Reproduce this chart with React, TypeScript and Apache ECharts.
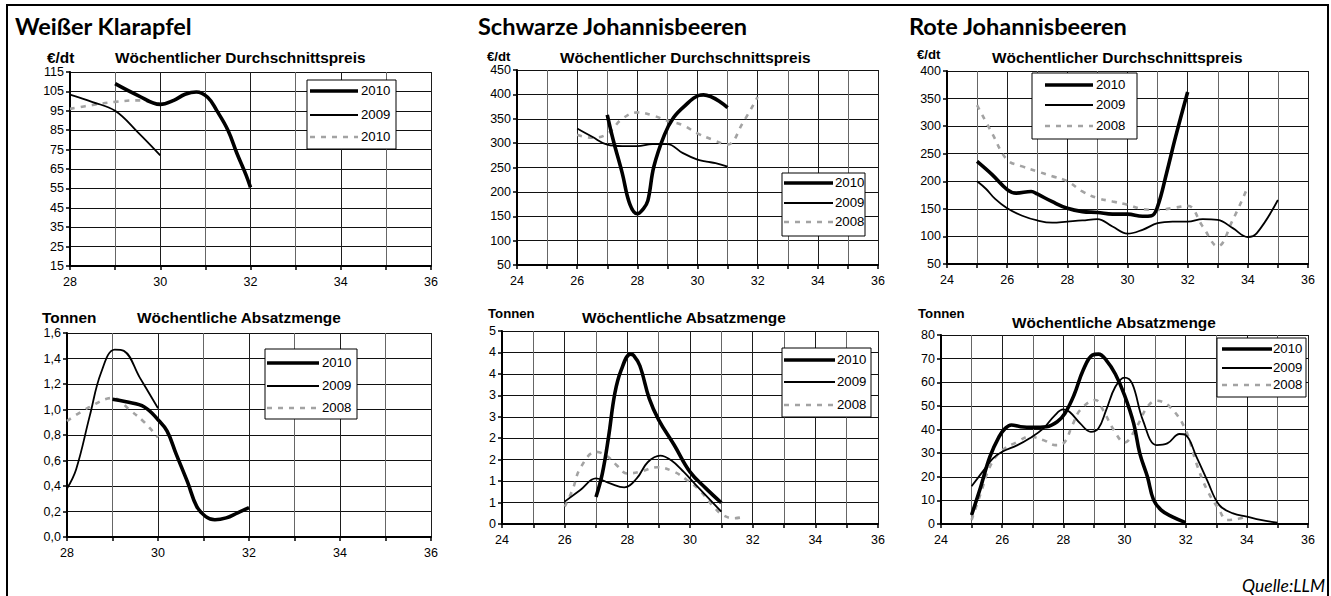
import React, { useEffect, useRef } from "react";
import * as echarts from "echarts";

// ---------- Data (week, value) ----------
// Weißer Klarapfel – Preis €/dt
const klarPreis2010 = [[29,109],[29.5,103],[30,98.3],[30.3,100.4],[30.55,103.5],[30.8,104.7],[31.05,102],[31.25,95.2],[31.5,85],[31.7,73],[31.9,62],[32,55.5]];
const klarPreis2009 = [[28,103.3],[28.5,99.5],[29,95],[29.5,84],[30,72]];
const klarPreis2008 = [[28,96],[28.5,98],[29,99.6],[29.5,100.4],[30,98.5]];
// Weißer Klarapfel – Menge t
const klarMenge2010 = [[29,1.08],[29.3,1.06],[29.7,1.02],[30,0.92],[30.2,0.83],[30.4,0.65],[30.65,0.43],[30.85,0.24],[31.05,0.16],[31.25,0.135],[31.5,0.15],[31.75,0.19],[32,0.23]];
const klarMenge2009 = [[28,0.38],[28.2,0.53],[28.5,0.95],[28.75,1.29],[29.05,1.47],[29.25,1.46],[29.6,1.25],[30,1.01]];
const klarMenge2008 = [[28,0.91],[28.5,1.02],[29,1.09],[29.4,0.99],[29.7,0.9],[30,0.78]];
// Schwarze Johannisbeeren – Preis
const schwarzPreis2010 = [[27,358],[27.2,306],[27.5,238],[27.75,175],[28,155],[28.2,165],[28.35,182],[28.55,252],[28.9,317],[29.2,352],[29.55,375],[30.05,398],[30.2,399],[31,373]];
const schwarzPreis2009 = [[26,330],[26.5,313],[27,297],[27.5,294],[28,294],[28.5,298],[29,298],[29.5,280],[30,266],[30.3,262],[30.6,259],[31,252]];
const schwarzPreis2008 = [[26,317],[26.5,311],[27,319],[27.5,350],[28,363],[28.5,357],[29,346],[29.5,337],[30,320],[30.5,307],[31,297],[31.5,341],[32,395]];
// Schwarze Johannisbeeren – Menge
const schwarzMenge2010 = [[27,0.7],[27.2,1.3],[27.4,2.25],[27.6,3.38],[27.8,3.98],[28.1,4.4],[28.2,4.37],[28.4,4.1],[28.7,3.25],[29,2.7],[29.5,2.04],[30,1.35],[30.5,0.93],[31,0.55]];
const schwarzMenge2009 = [[26,0.58],[26.5,0.88],[27,1.18],[27.45,1.05],[27.9,0.95],[28.3,1.18],[28.65,1.6],[29.05,1.77],[29.4,1.65],[29.8,1.35],[30.2,1.0],[31,0.32]];
const schwarzMenge2008 = [[26,0.45],[26.25,0.88],[26.5,1.45],[27,1.87],[27.35,1.76],[27.65,1.53],[28,1.31],[28.4,1.35],[28.95,1.47],[29.5,1.35],[29.9,1.14],[30.3,0.88],[30.75,0.45],[31.05,0.23],[31.4,0.15],[31.75,0.19]];
// Rote Johannisbeeren – Preis
const rotPreis2010 = [[25,236],[25.5,212],[26,185],[26.3,178.5],[26.8,181.5],[27,177],[27.5,163],[28,151],[28.5,145],[29,143.5],[29.5,140.5],[30,140.5],[30.5,136.5],[30.8,137.5],[31,154],[31.3,215],[31.6,281],[32,362]];
const rotPreis2009 = [[25,200],[25.3,186],[25.6,168],[26,151],[26.5,137.5],[27,129],[27.5,125],[28,127],[28.5,129],[29,131.5],[29.5,118],[30,105],[30.5,112],[31,124],[31.5,127],[32,127],[32.5,131.5],[33,130],[33.5,115],[34,99],[34.3,106],[35,166]];
const rotPreis2008 = [[25,338],[25.5,287],[26,239],[26.5,227],[27,218],[27.5,209],[28,200],[28.5,181.5],[29,169.5],[29.5,163.5],[30,157.5],[30.5,149.5],[31,148],[31.5,151.5],[32,155.5],[32.5,118],[33,82],[33.5,130],[34,190]];
// Rote Johannisbeeren – Menge
const rotMenge2010 = [[25,3.8],[25.3,15.8],[25.6,28.5],[25.9,37],[26.1,40.5],[26.3,41.9],[26.6,41.2],[27,40.9],[27.45,41.2],[27.8,43.3],[28.05,46.8],[28.35,54.6],[28.65,65.2],[28.95,71.5],[29.15,71.9],[29.4,69.4],[29.7,63.5],[30,54.6],[30.3,42.6],[30.5,29.9],[30.75,20],[30.95,10.2],[31.2,5.9],[31.55,3.1],[32,0.6]];
const rotMenge2009 = [[25,16],[25.4,22.8],[25.7,27.8],[26,30.6],[26.5,33.4],[26.9,36.3],[27.35,40.5],[27.7,45.7],[28,48.5],[28.2,47.5],[28.55,42.6],[28.9,39],[29.15,40.5],[29.4,48.2],[29.7,58.1],[30,62],[30.25,59.5],[30.6,44],[31.05,33.4],[31.4,34.1],[31.8,38.1],[32,37.7],[32.35,28.5],[32.7,18.6],[33.1,8],[33.55,4.5],[34,3.1],[34.45,1.7],[35,0.6]];
const rotMenge2008 = [[25,1.7],[25.3,13],[25.6,24.3],[25.95,30.6],[26.5,34.8],[26.9,37],[27.35,35.5],[27.75,33.4],[28,34.1],[28.3,41.9],[28.55,48.2],[29.05,52.5],[29.3,48.2],[29.65,39.8],[30,34.5],[30.4,41.2],[30.75,49.6],[31.05,52.2],[31.5,49.4],[32,39.8],[32.35,25.7],[32.7,14.4],[33.1,5.9],[33.35,1.7],[33.8,2.4],[34,3.8]];

const titles = ["Weißer Klarapfel", "Schwarze Johannisbeeren", "Rote Johannisbeeren"];
const priceTitle = "Wöchentlicher Durchschnittspreis";
const amountTitle = "Wöchentliche Absatzmenge";
const legendLabels1 = ["2010", "2009", "2010"];
const legendLabels = ["2010", "2009", "2008"];
const source = "Quelle:LLM";

const AX = "Liberation Sans, Arial, sans-serif";
const TF = "Lato, 'Open Sans', sans-serif";

const seriesStyles = [
  { color: "#000000", width: 3.6, type: "solid" as any },
  { color: "#000000", width: 1.8, type: "solid" as any },
  { color: "#a3a3a3", width: 2.6, type: [5, 6] as any },
];

const grids = [
  { left: 70, top: 72, width: 361, height: 194 },
  { left: 517, top: 70, width: 361, height: 195 },
  { left: 947, top: 71, width: 361, height: 193 },
  { left: 67, top: 333, width: 364, height: 204 },
  { left: 502, top: 331, width: 376, height: 193 },
  { left: 941, top: 335, width: 367, height: 189 },
];

const panels = [
  { xmin: 28, ymin: 15, ymax: 115, yint: 10, fmt: (v: number) => String(Math.round(v)), data: [klarPreis2010, klarPreis2009, klarPreis2008] },
  { xmin: 24, ymin: 50, ymax: 450, yint: 50, fmt: (v: number) => String(Math.round(v)), data: [schwarzPreis2010, schwarzPreis2009, schwarzPreis2008] },
  { xmin: 24, ymin: 50, ymax: 400, yint: 50, fmt: (v: number) => String(Math.round(v)), data: [rotPreis2010, rotPreis2009, rotPreis2008] },
  { xmin: 28, ymin: 0, ymax: 1.6, yint: 0.2, fmt: (v: number) => v.toFixed(1).replace(".", ","), data: [klarMenge2010, klarMenge2009, klarMenge2008] },
  { xmin: 24, ymin: 0, ymax: 5, yint: 5 / 9, fmt: (v: number) => String(Math.round(v)), data: [schwarzMenge2010, schwarzMenge2009, schwarzMenge2008] },
  { xmin: 24, ymin: 0, ymax: 80, yint: 10, fmt: (v: number) => String(Math.round(v)), data: [rotMenge2010, rotMenge2009, rotMenge2008] },
];

function txt(x: number, y: number, text: string, size: number, opts: any = {}) {
  return {
    type: "text",
    x,
    y,
    scaleX: opts.scaleX ?? 1.1,
    z: 100,
    style: {
      text,
      x: 0,
      y: 0,
      fill: "#000",
      fontSize: size,
      fontWeight: opts.weight ?? "bold",
      fontStyle: opts.style ?? "normal",
      fontFamily: opts.family ?? AX,
      align: opts.align ?? "left",
      verticalAlign: "middle",
    },
  };
}

function legend(box: number[], rows: number[], lx1: number, lx2: number, tx: number, labels: string[]) {
  const els: any[] = [
    {
      type: "rect",
      z: 90,
      shape: { x: box[0], y: box[1], width: box[2], height: box[3] },
      style: { fill: "#fff", stroke: "#000", lineWidth: 1 },
    },
  ];
  rows.forEach((ry, i) => {
    const s = seriesStyles[i];
    els.push({
      type: "line",
      z: 95,
      shape: { x1: lx1, y1: ry, x2: lx2, y2: ry },
      style: { stroke: s.color, lineWidth: s.width, lineDash: Array.isArray(s.type) ? s.type : null },
    });
    els.push(txt(tx, ry, labels[i], 12, { weight: "normal" }));
  });
  return els;
}

export default function App() {
  const ref = useRef<HTMLDivElement>(null);
  useEffect(() => {
    const chart = echarts.init(ref.current as HTMLDivElement, null, { renderer: "svg" });

    const xAxis = panels.map((p, i) => ({
      type: "value",
      gridIndex: i,
      min: p.xmin,
      max: 36,
      interval: 2,
      axisLine: { show: true, onZero: false, lineStyle: { color: "#000", width: 2 } },
      axisTick: { show: true, length: 4, lineStyle: { color: "#000", width: 1.5 } },
      minorTick: { show: true, splitNumber: 2, length: 4, lineStyle: { color: "#000", width: 1.5 } },
      splitLine: { show: true, lineStyle: { color: "#1e1e1e", width: 1 } },
      minorSplitLine: { show: true, lineStyle: { color: "#666", width: 1 } },
      axisLabel: { fontSize: 12.5, color: "#000", margin: 9, fontFamily: AX },
    }));

    const yAxis = panels.map((p, i) => ({
      type: "value",
      gridIndex: i,
      min: p.ymin,
      max: p.ymax,
      interval: p.yint,
      axisLine: { show: true, onZero: false, lineStyle: { color: "#000", width: 2 } },
      axisTick: { show: true, length: 4, lineStyle: { color: "#000", width: 1.5 } },
      splitLine: { show: true, lineStyle: { color: "#111", width: 1 } },
      axisLabel: { fontSize: 12.5, color: "#000", margin: 6, fontFamily: AX, formatter: p.fmt },
    }));

    const series: any[] = [];
    panels.forEach((p, i) => {
      [2, 1, 0].forEach((k) => {
        const s = seriesStyles[k];
        series.push({
          type: "line",
          name: (i === 0 ? legendLabels1 : legendLabels)[k],
          xAxisIndex: i,
          yAxisIndex: i,
          data: p.data[k],
          smooth: 0.4,
          symbol: "none",
          lineStyle: { color: s.color, width: s.width, type: s.type },
          z: 3 + (2 - k),
        });
      });
    });

    const graphic: any[] = [
      // outer frame
      { type: "line", z: 100, shape: { x1: 6, y1: 5, x2: 1329, y2: 5 }, style: { stroke: "#000", lineWidth: 2 } },
      { type: "line", z: 100, shape: { x1: 7, y1: 5, x2: 7, y2: 596 }, style: { stroke: "#000", lineWidth: 2 } },
      { type: "line", z: 100, shape: { x1: 1328, y1: 5, x2: 1328, y2: 596 }, style: { stroke: "#000", lineWidth: 2 } },
      // main titles
      txt(15, 27, titles[0], 22, { family: TF, scaleX: 1.07 }),
      txt(478, 27, titles[1], 22, { family: TF, scaleX: 1.07 }),
      txt(909, 27, titles[2], 22, { family: TF, scaleX: 1.07 }),
      // price subtitles and units
      txt(115, 58, priceTitle, 14),
      txt(560, 58, priceTitle, 14),
      txt(992, 58, priceTitle, 14),
      txt(47, 58, "€/dt", 14),
      txt(487, 57, "€/dt", 12),
      txt(917, 55, "€/dt", 12),
      // amount subtitles and units
      txt(137, 318, amountTitle, 14),
      txt(582, 318, amountTitle, 14),
      txt(1012, 323, amountTitle, 14),
      txt(42, 318, "Tonnen", 14),
      txt(488, 314, "Tonnen", 12),
      txt(918, 314, "Tonnen", 12),
      // source
      txt(1325, 585, source, 17.5, { family: TF, weight: "normal", style: "italic", align: "right", scaleX: 1 }),
      ...legend([307, 80, 89, 69], [91, 115, 137], 310, 358, 361, legendLabels1),
      ...legend([782, 173, 83, 63], [183, 203, 222], 784, 833, 835, legendLabels),
      ...legend([1032, 73, 105, 66], [85, 105, 126], 1045, 1093, 1096, legendLabels),
      ...legend([265, 349, 92, 70], [363, 386, 408], 267, 319, 322, legendLabels),
      ...legend([782, 348, 89, 69], [360, 382, 405], 784, 835, 837, legendLabels),
      ...legend([1217, 338, 89, 59], [349, 368, 385], 1222, 1272, 1273, legendLabels),
    ];

    chart.setOption({
      animation: false,
      backgroundColor: "#fff",
      grid: grids.map((g) => ({ ...g, containLabel: false })),
      xAxis,
      yAxis,
      series,
      graphic,
    });
    return () => chart.dispose();
  }, []);
  return (
    <div
      ref={ref}
      style={{ position: "absolute", left: 0, top: 0, width: 1331, height: 596, background: "#fff" }}
    />
  );
}
